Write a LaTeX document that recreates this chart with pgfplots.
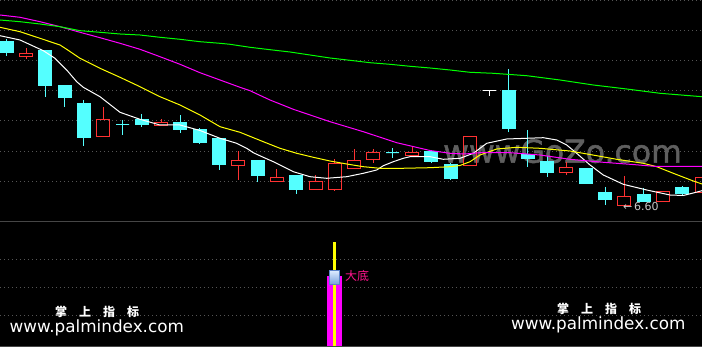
\documentclass[border=0pt]{standalone}
\usepackage{fontspec}
\setmainfont{DejaVu Sans}
\newfontfamily\cjk{Noto Sans CJK SC}
\newfontfamily\wmf{DejaVu Sans}[FakeBold=1.5]
\usepackage{pgfplots}
\usepackage{pgfplotstable}
\pgfplotsset{compat=1.18}
\usepgfplotslibrary{statistics}

\definecolor{kred}{RGB}{255,50,50}
\definecolor{kcyan}{RGB}{84,255,255}
\definecolor{mayel}{RGB}{255,255,0}
\definecolor{mamag}{RGB}{255,0,255}
\definecolor{magrn}{RGB}{0,255,0}
\definecolor{gridc}{RGB}{85,85,85}
\definecolor{sepc}{RGB}{70,70,70}
\definecolor{wmc}{RGB}{95,95,95}
\definecolor{pinkc}{RGB}{255,20,140}
\definecolor{labc}{RGB}{200,200,200}

% candles in screen units (x = pixel column, y = pixel row from top)
\pgfplotstableread{
x hi top bot lo
6.7 39.3 42 52.7 55.7
45.3 50 51 85.7 96.7
64.6 86 86 97.7 106.7
83.9 100 104 137.7 145.7
122.5 120 124.3 124.3 134.7
141.8 114 120 124.7 126.7
180.4 115.3 123 129.7 132.7
199.7 128.3 130 142.7 144
219.0 139 139 164.7 169.7
257.6 161 161 176 181.7
296.2 176 176 190 193.7
392.7 148.3 153 153 157.7
431.3 152 152 161.7 163.3
450.6 163.3 165 178.7 180
508.5 69 91 129 132.3
527.8 130 154.7 158.7 166.7
547.1 155.7 162 172.7 176.7
585.7 169 169 183.7 183.7
605.0 187 193 199.7 205
643.6 188 195 201.7 201.7
682.2 186 188 194 195
}\cyanT
\pgfplotstableread{
x hi top bot lo
26.0 48.3 54 56.7 59
103.2 107 120 136.7 136.7
161.1 119 123 126 126
238.3 151 160.3 165.7 180
276.9 169 177.3 181.7 181.7
315.5 175.3 182 189.7 189.7
334.8 159.3 164 189.7 190.7
354.1 149 160.3 168.3 168.3
373.4 149.3 152.3 159.7 163.3
412.0 146.7 152.3 156 156
469.9 136.3 136.3 166 166
566.4 161.7 167.3 172.7 175.3
624.3 176 197 205.3 205.3
662.9 191.3 191.3 201.3 201.3
701.5 178 178 192.7 192.7
}\redT
\pgfplotstableread{
x hi top bot lo
489.2 90.3 90.3 90.3 95.7
}\whiteT

\pgfplotstableread{
x y
0 35.7
20 40
43.3 50.7
55 58.3
66.7 70
76.7 81.7
83.3 87.3
100 96.7
120 112.3
140 119.3
160 125
180 125
200 130.5
220 138.3
236.7 143.3
246.7 148.3
253.3 152.7
263.3 157.3
273.3 161.7
283.3 166.7
293.3 171.7
310 176.7
326.7 178.3
346.7 176.7
363.3 173.3
376.7 170
383.3 165.7
393.3 161.7
403.3 158.3
410 156.7
430 156.7
443.3 159.3
460 158.3
473.3 153.3
486.7 143.3
506.7 139
526.7 138.3
543.3 137.7
556.7 140
566.7 145
576.7 153.3
590 165
603.3 175
623.3 184.3
646.7 190
670 195
683.3 195.5
693.3 193
702 190.7
}\maA
\pgfplotstableread{
x y
0 27.3
20 31.7
40 38.3
60 45
66.7 49.3
80 58.3
100 68.3
120 77.3
140 86.7
160 96.7
180 105
200 115
220 126.7
240 132.3
263.3 141.7
280 148.3
296.7 153.3
313.3 157.3
330 161
346.7 164
363.3 166.7
380 168.3
401.7 168.3
430 167.7
450 166.7
460 165.5
470 161.7
480 155
496.7 149
516.7 147.3
540 148.3
570 151
596.7 155.7
616.7 159.3
643.3 163.3
656.7 166.7
673.3 173.3
693.3 181
702 184
}\maB
\pgfplotstableread{
x y
0 15
20 17.3
40 21.7
60 26.7
80 32.3
100 37.7
120 43.3
140 49.3
160 56.7
180 64.3
200 72.7
220 80
240 87.3
250 90.7
270 100
293.3 109.3
330 121.7
363.3 131.7
396.7 142.7
430 150.5
450 153.3
465 154
480 152.7
510 152.7
540 155
570 159.3
603.3 162.3
630 164.3
656.7 166.5
702 166.5
}\maC
\pgfplotstableread{
x y
0 20
20 21.7
40 24
60 26.7
80 30.7
100 32.3
120 34
140 35
160 37.3
180 39.3
200 41.7
220 43.3
230 44.3
250 47.3
270 49.7
290 52
310 55
330 58
350 60.3
370 62.7
390 64.3
410 66.3
430 68
450 70
470 72.3
493.3 73.3
526.7 75.7
560 80
593.3 85
626.7 89
660 93.3
702 96.7
}\maD

\newcommand\candles[2]{%
  \pgfplotstablegetrowsof{#1}%
  \pgfmathtruncatemacro\cN{\pgfplotsretval-1}%
  \pgfplotsforeachungrouped \ci in {0,...,\cN}{%
    \pgfplotstablegetelem{\ci}{x}\of{#1}\let\cX\pgfplotsretval
    \pgfplotstablegetelem{\ci}{hi}\of{#1}\let\cH\pgfplotsretval
    \pgfplotstablegetelem{\ci}{top}\of{#1}\let\cT\pgfplotsretval
    \pgfplotstablegetelem{\ci}{bot}\of{#1}\let\cB\pgfplotsretval
    \pgfplotstablegetelem{\ci}{lo}\of{#1}\let\cL\pgfplotsretval
    \edef\next{\noexpand\addplot[#2, line width=1pt, boxplot/draw direction=y, boxplot prepared={draw position=\cX, lower whisker=\cH, lower quartile=\cT, median=\cT, upper quartile=\cB, upper whisker=\cL, box extend=13, whisker extend=0}] coordinates {};}%
    \next
  }%
}

\pgfplotsset{panel/.style={
  scale only axis, width=702pt, xmin=0, xmax=702,
  anchor=north west, axis line style={draw=none},
  xtick=\empty, yticklabels={}, tick style={draw=none},
  ymajorgrids, major grid style={gridc, line width=1pt, dash pattern=on 1pt off 3pt},
  clip=true}}

\begin{document}
\begin{tikzpicture}
\useasboundingbox (0,0) rectangle (702pt,347pt);
\fill[black] (0,0) rectangle (702pt,347pt);
% watermark behind the price panel
\node[anchor=base west, inner sep=0, text=wmc, font=\wmf\fontsize{31.5}{32}\selectfont] at (443pt,184.3pt) {wwwGoZo.com};

\begin{axis}[panel, at={(0,347pt)}, height=222pt, ymin=0, ymax=222, y dir=reverse,
  ytick={0.5,30.5,60.7,91,121,151.3,181.7}]
\candles{\cyanT}{draw=kcyan, fill=kcyan}
\candles{\redT}{draw=kred, fill=none}
\candles{\whiteT}{draw=white, fill=none}
\addplot[white, line width=1pt] table {\maA};
\addplot[mayel, line width=1pt] table {\maB};
\addplot[mamag, line width=1pt] table {\maC};
\addplot[magrn, line width=1pt] table {\maD};
\node[anchor=west, inner sep=0, text=labc, font=\fontsize{11}{11}\selectfont] at (axis cs:623,206.5) {←\,6.60};
\end{axis}

\begin{axis}[panel, at={(0,125pt)}, height=125pt, ymin=0, ymax=125,
  ytick={31,59.5,87.7}]
\addplot[ycomb, mamag, line width=15pt] coordinates {(334.5,71)};
\addplot[ycomb, mayel, line width=3pt] coordinates {(334.5,105)};
\end{axis}

\draw[sepc, line width=1pt] (0,125.3pt) -- (702pt,125.3pt);
\draw[sepc, line width=1pt] (0,0.5pt) -- (702pt,0.5pt);

% signal icon and label
\shade[top color={rgb,255:red,220;green,235;blue,255}, bottom color={rgb,255:red,120;green,160;blue,220}, draw={rgb,255:red,90;green,130;blue,200}, line width=0.6pt] (329pt,62.7pt) rectangle (339pt,76.3pt);
\node[anchor=west, inner sep=0, text=pinkc, font=\cjk\fontsize{12}{12}\selectfont] at (345pt,71pt) {大底};

% footer watermarks
\node[inner sep=0, text=white, font=\cjk\bfseries\fontsize{12}{12}\selectfont] at (97pt,35pt) {掌\hspace{12pt}上\hspace{12pt}指\hspace{12pt}标};
\node[inner sep=0, text=white, font=\cjk\bfseries\fontsize{12}{12}\selectfont] at (599pt,38.5pt) {掌\hspace{12pt}上\hspace{12pt}指\hspace{12pt}标};
\node[anchor=base west, inner sep=0, text=white, font=\fontsize{16.8}{17}\selectfont] at (9.5pt,14pt) {www.palmindex.com};
\node[anchor=base west, inner sep=0, text=white, font=\fontsize{16.8}{17}\selectfont] at (511pt,17.5pt) {www.palmindex.com};
\end{tikzpicture}
\end{document}
